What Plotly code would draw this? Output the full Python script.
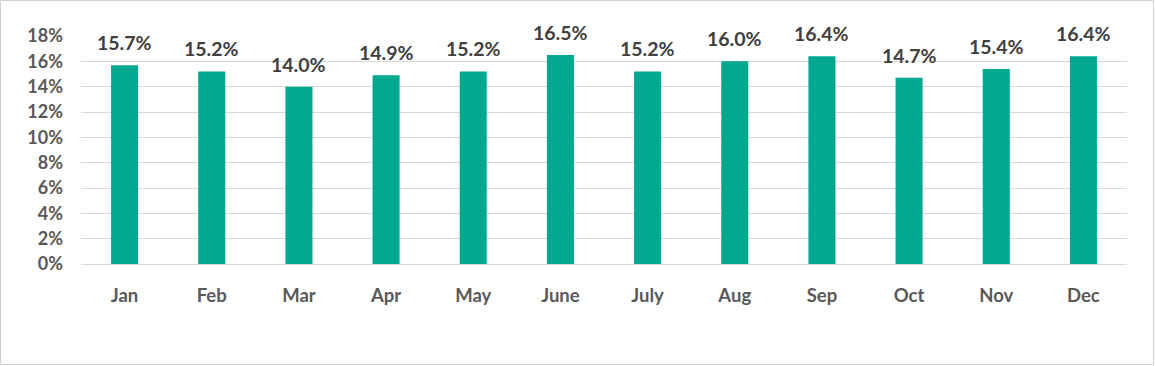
import plotly.graph_objects as go

months = ["Jan", "Feb", "Mar", "Apr", "May", "June", "July", "Aug", "Sep", "Oct", "Nov", "Dec"]
values = [15.7, 15.2, 14.0, 14.9, 15.2, 16.5, 15.2, 16.0, 16.4, 14.7, 15.4, 16.4]
yticks = [0, 2, 4, 6, 8, 10, 12, 14, 16, 18]
ytick_labels = [f"{v}%" for v in yticks]
value_labels = [f"{v:.1f}%" for v in values]

W, H = 1155, 366
L, R, T, B = 81, 28, 36, 102
pw, ph = W - L - R, H - T - B

fig = go.Figure(go.Bar(
    x=months, y=values,
    marker=dict(color="#00A88F", line=dict(width=0)),
    width=0.31,
    cliponaxis=False,
    hoverinfo="skip",
))

for m, v, lab in zip(months, values, value_labels):
    fig.add_annotation(x=m, y=v, text=lab, showarrow=False, yanchor="bottom",
                       yshift=9,
                       font=dict(family="Lato", size=19.5, color="#404040", weight="bold"))

fig.update_layout(
    width=W, height=H,
    margin=dict(l=L, r=R, t=T, b=B, autoexpand=False),
    paper_bgcolor="white", plot_bgcolor="white",
    showlegend=False,
    xaxis=dict(showgrid=False, showline=True, linecolor="#D9D9D9", linewidth=1,
               tickfont=dict(family="Lato", size=18.5, color="#595959", weight="bold"),
               ticks="outside", ticklen=0, ticklabelstandoff=15),
    yaxis=dict(range=[0, 18], tickvals=yticks, ticktext=ytick_labels,
               showgrid=True, gridcolor="#D9D9D9", gridwidth=1.3, zeroline=False,
               tickfont=dict(family="Lato", size=18, color="#595959", weight="bold"),
               ticklabelstandoff=17),
    shapes=[dict(type="rect", xref="paper", yref="paper",
                 x0=(0.5 - L) / pw, x1=(W - 1.5 - L) / pw,
                 y0=-(B - 1.5) / ph, y1=(ph + T - 0.5) / ph,
                 line=dict(color="#D0D0D0", width=1))],
)

fig.write_html("out.html", config={"displayModeBar": False},
               post_script="document.body.style.margin='0';document.body.style.overflow='hidden';")
